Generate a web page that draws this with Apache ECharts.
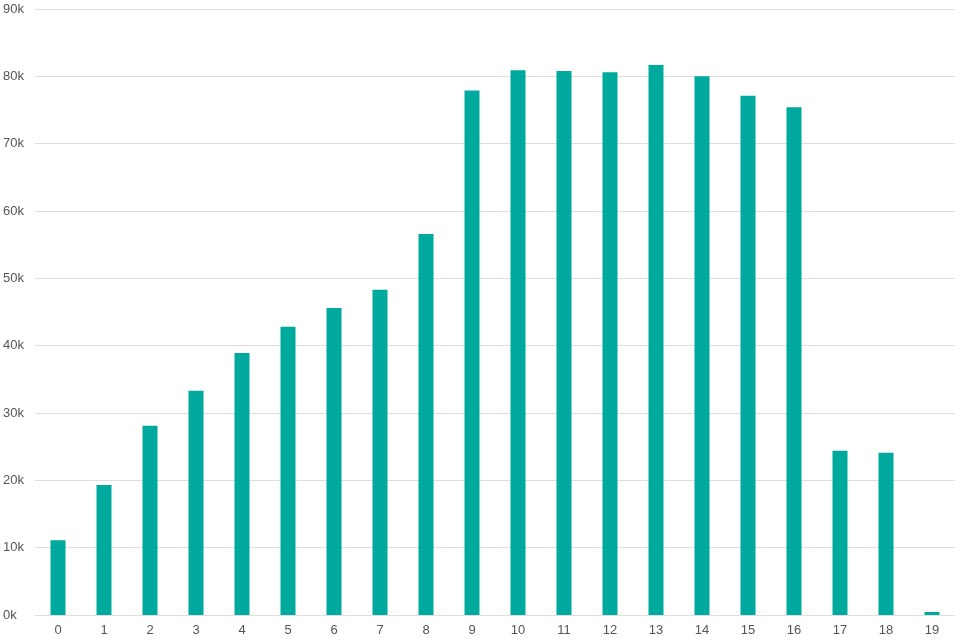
<!DOCTYPE html>
<html><head><meta charset="utf-8">
<script src="https://cdn.jsdelivr.net/npm/echarts@6/dist/echarts.min.js"></script>
<style>html,body{margin:0;padding:0;background:#fff}#c{width:960px;height:640px}</style>
</head><body><div id="c"></div>
<script>
var categories = ['0','1','2','3','4','5','6','7','8','9','10','11','12','13','14','15','16','17','18','19'];
var values = [11100,19300,28100,33300,38900,42800,45600,48300,56600,77900,80900,80800,80600,81700,80000,77100,75400,24400,24100,450];
var yTicks = [0,10000,20000,30000,40000,50000,60000,70000,80000,90000];

var chart = echarts.init(document.getElementById('c'));
chart.setOption({
  animation: false,
  grid: {left: 35, right: 5, top: 9, bottom: 25, containLabel: false},
  xAxis: {
    type: 'category', data: categories,
    axisLine: {show: false}, axisTick: {show: false},
    axisLabel: {color: '#555', fontSize: 13, fontFamily: 'Liberation Sans, Arial, sans-serif', margin: 9}
  },
  yAxis: {
    type: 'value', min: yTicks[0], max: yTicks[yTicks.length - 1], interval: 10000,
    axisLine: {show: false}, axisTick: {show: false},
    splitLine: {lineStyle: {color: '#dedede', width: 1}},
    axisLabel: {color: '#555', fontSize: 13, fontFamily: 'Liberation Sans, Arial, sans-serif',
      align: 'left', margin: 32,
      formatter: function (v) { return (v / 1000) + 'k'; }}
  },
  series: [{
    type: 'bar', data: values, barWidth: 15,
    itemStyle: {color: '#00a99d'}
  }]
});
</script></body></html>
